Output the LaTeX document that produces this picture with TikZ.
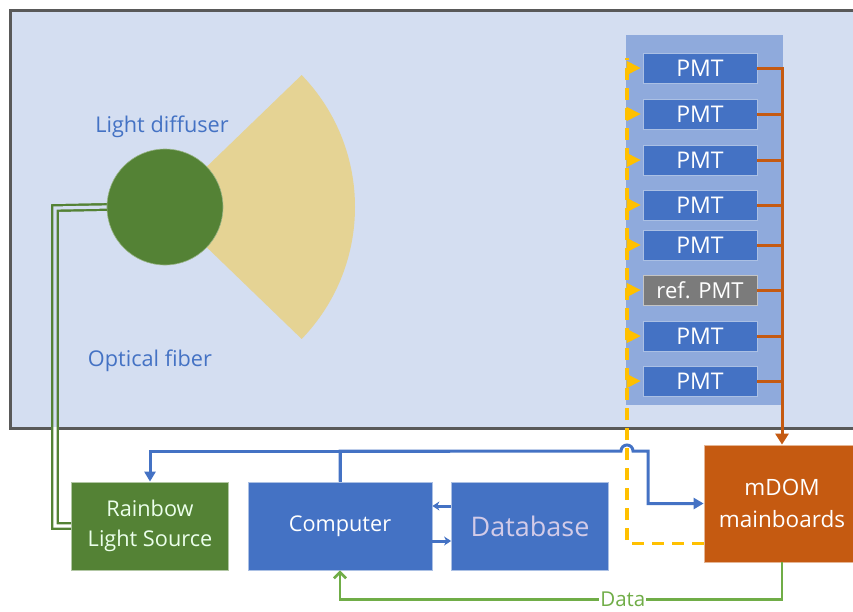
\documentclass[tikz,border=0pt]{standalone}
\usepackage{fontspec}
\setmainfont{Open Sans}
\usetikzlibrary{arrows.meta}
\definecolor{tankbg}{HTML}{D4DEF1}
\definecolor{tankline}{HTML}{595959}
\definecolor{panelbg}{HTML}{8FAADC}
\definecolor{pmtblue}{HTML}{4472C4}
\definecolor{refgray}{HTML}{7B7B7B}
\definecolor{diffgreen}{HTML}{548235}
\definecolor{conefill}{HTML}{E5D394}
\definecolor{sigorange}{HTML}{C55A11}
\definecolor{trigyellow}{HTML}{FFC000}
\definecolor{datagreen}{HTML}{70AD47}
\definecolor{dbtext}{HTML}{D3CBE8}
\newcommand{\txtsize}{\fontsize{21.7}{30}\selectfont}

\tikzset{
  box/.style={draw=white!55!#1, fill=#1, line width=0.8pt, inner sep=0pt,
    text=white, font=\txtsize, align=center},
  pmtbox/.style={box=pmtblue, font=\fontsize{23}{26}\selectfont, minimum width=114pt, minimum height=30pt},
  refbox/.style={box=refgray, font=\fontsize{22}{26}\selectfont, minimum width=114pt, minimum height=30pt},
  lbl/.style={text=pmtblue, font=\txtsize},
  sig/.style={sigorange, line width=3pt},
  trig/.style={trigyellow, line width=3.3pt},
  ctrl/.style={pmtblue, line width=3pt},
  data/.style={datagreen, line width=2.7pt},
  fiber/.style={diffgreen, line width=2.2pt, double distance=3.2pt}
}

\begin{document}
\begin{tikzpicture}[x=1pt, y=-1pt]
       \clip (0,0) rectangle (853,611);
       \fill [white] (0,0) rectangle (853,611);
       % tank
       \fill [tankbg] (10,10) rectangle (870,428);
       \draw [tankline, line width=3pt] (870,10) -- (10,10) -- (10,428) -- (870,428);
       % diffuser with light cone
       \fill [conefill] (165,207) -- ++(44:190) arc[start angle=44, end angle=-44, radius=190] -- cycle;
       \node [circle, fill=diffgreen, draw=white!40!diffgreen, line width=0.6pt, minimum size=116pt] (diff) at (165,207) {};
       \node [lbl] (difflbl) at (162,127) {Light diffuser};
       \node [lbl] (fiberlbl) at (150,361) {Optical fiber};
       % PMT column
       \fill [panelbg] (626,35) rectangle (783,405);
       \foreach \y/\t/\s [count=\i] in {68/PMT/pmtbox, 114/PMT/pmtbox, 160/PMT/pmtbox, 205/PMT/pmtbox,
                                         245/PMT/pmtbox, 290/ref. PMT/refbox, 336/PMT/pmtbox, 381/PMT/pmtbox}
           \node [\s] (p\i) at (700,\y) {\t};
       % electronics
       \node [box=diffgreen, text=green!8, minimum width=157pt, minimum height=88pt] (rainbow) at (150,526) {Rainbow\\Light Source};
       \node [box=pmtblue, minimum width=184pt, minimum height=88pt] (comp) at (340,526) {Computer};
       \node [box=pmtblue, text=dbtext, font=\fontsize{27}{30}\selectfont, minimum width=157pt, minimum height=88pt] (db) at (530,526) {Database};
       \node [box=sigorange, font=\fontsize{22.5}{32}\selectfont, minimum width=156pt, minimum height=117pt] (mdom) at (782,503.5) {mDOM\\mainboards};
       % optical fiber
       \draw [fiber, double=white] (diff.west) -- (55,208) |- (rainbow.west);
       \begin{scope}
           \clip (11.5,11.5) rectangle (870,426.5);
           \draw [fiber, double=tankbg] (diff.west) -- (55,208) |- (rainbow.west);
       \end{scope}
       % PMT signals
       \draw [sig, -{Triangle[length=11pt, width=13pt]}] (p1.east) -| (mdom.north);
       \foreach \i in {2,...,8}
           \draw [sig] (p\i.east) -- (p\i.east -| mdom.north);
       % trigger
       \coordinate (trigtop) at (627,58);
       \draw [trig, dashed, dash pattern=on 12pt off 8pt] ([yshift=-40pt]mdom.west) -| (trigtop);
       \foreach \i in {1,...,8}
           \draw [trig, line width=1pt, -{Triangle[length=14pt, width=14pt]}] (627,0 |- p\i.west) -- ([xshift=-2pt]p\i.west);
       % control
       \coordinate (bend) at (648,451);
       \draw [ctrl, -{Triangle[length=10pt, width=11pt]}] (comp.north) |- (450,451) -| (rainbow.north);
       \draw [ctrl, -{Triangle[length=10pt, width=11pt]}] (comp.north) |- (621,451)
             arc[start angle=180, end angle=360, radius=6] -- (bend) |- (mdom.west);
       \draw [ctrl, -{Stealth[length=7pt, width=9pt]}] ([yshift=20pt]db.west) -- ([yshift=20pt]db.west -| comp.east);
       \draw [ctrl, -{Stealth[length=7pt, width=9pt]}] ([yshift=-15pt]comp.east) -- ([yshift=-15pt]comp.east -| db.west);
       % data
       \draw [data, -{Straight Barb[length=6pt, width=12pt]}] (mdom.south) -- ++(0,37) -| node [pos=0.18, fill=white, inner sep=1pt, text=datagreen, font=\fontsize{20.5}{24}\selectfont] (datalbl) {Data} (comp.south);
\end{tikzpicture}
\end{document}
